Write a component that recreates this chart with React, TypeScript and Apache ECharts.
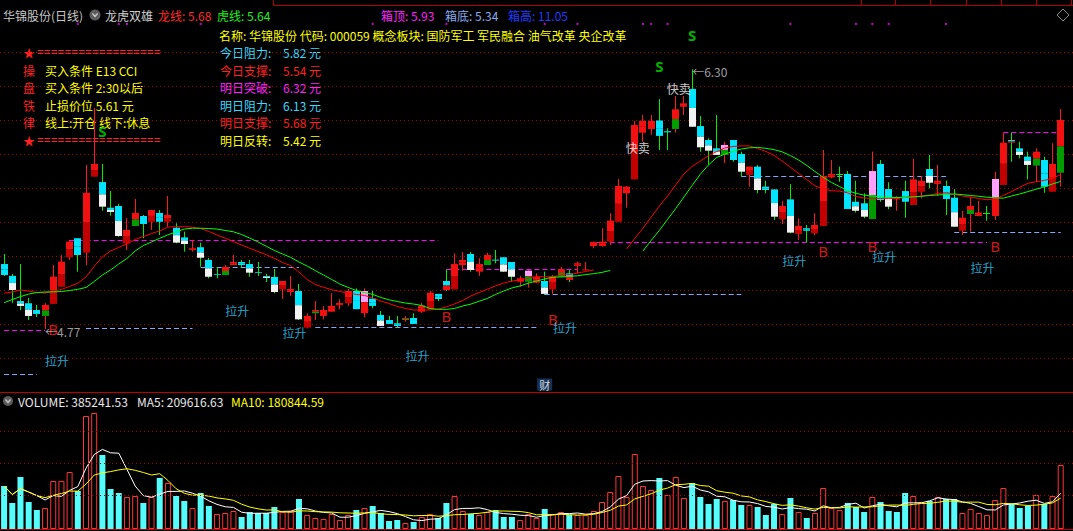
import React, { useEffect, useRef } from "react";
import * as echarts from "echarts";

// ---------- data ----------
const days: string[] = Array.from({ length: 131 }, (_, i) => `D${i + 1}`);

const opens = [5.153,5.083,4.935,4.922,4.882,4.847,4.918,5.019,5.193,5.305, 5.220,5.668,5.636,5.485,5.495,5.275,5.377,5.436,5.402,5.454, 5.402,5.367,5.310,5.236,5.252,5.177,5.091,5.088,5.147,5.165, 5.153,5.106,5.083,5.077,5.004,4.988,4.994,4.778,4.863,4.847, 4.872,4.910,4.922,4.994,4.863,4.949,4.853,4.823,4.804,4.823, 4.835,4.872,4.886,4.977,5.053,5.004,5.147,5.212,5.108,5.147, 5.179,5.193,5.165,5.049,5.049,5.043,5.053,5.004,5.078,5.098, 5.142,5.116,5.259,5.259,5.285,5.402,5.570,5.652,5.927,5.949, 5.999,5.929,5.949,6.080,6.185,5.966,5.884,5.835,5.796,5.884, 5.802,5.678,5.727,5.609,5.593,5.417,5.534,5.330,5.364,5.334, 5.377,5.664,5.682,5.684,5.520,5.511,5.418,5.743,5.595,5.546, 5.583,5.501,5.579,5.713,5.625,5.613,5.544,5.349,5.448,5.436, 5.451,5.436,5.619,5.884,5.835,5.786,5.733,5.766,5.579,5.691];
const closes = [5.088,5.000,4.906,4.847,4.859,4.912,5.079,5.167,5.285,5.206, 5.573,5.743,5.491,5.460,5.318,5.354,5.454,5.389,5.471,5.402, 5.442,5.279,5.271,5.246,5.190,5.078,5.094,5.136,5.165,5.147, 5.102,5.103,5.071,4.988,5.053,5.006,4.827,4.847,4.882,4.882, 4.906,4.923,4.994,4.887,4.994,4.906,4.788,4.800,4.788,4.835, 4.800,4.908,4.984,4.947,5.000,5.153,5.177,5.118,5.153,5.206, 5.175,5.108,5.078,5.069,5.114,5.078,4.977,5.083,5.122,5.059, 5.158,5.122,5.283,5.285,5.409,5.613,5.609,5.972,5.996,5.996, 5.908,5.937,6.065,6.100,5.962,5.841,5.821,5.796,5.855,5.766, 5.697,5.727,5.589,5.589,5.432,5.495,5.338,5.377,5.349,5.383, 5.672,5.684,5.686,5.477,5.467,5.432,5.701,5.530,5.491,5.535, 5.520,5.652,5.643,5.632,5.644,5.536,5.373,5.426,5.495,5.456, 5.453,5.654,5.868,5.868,5.796,5.737,5.815,5.609,5.743,6.002];
const lows = [5.083,4.924,4.882,4.823,4.841,4.770,4.918,5.018,5.177,5.108, 5.147,5.668,5.467,5.438,5.314,5.236,5.377,5.305,5.354,5.324, 5.373,5.275,5.226,5.226,5.137,5.069,5.069,5.088,5.147,5.134, 5.078,5.083,5.047,4.981,4.947,4.965,4.823,4.774,4.823,4.827, 4.872,4.886,4.906,4.887,4.839,4.892,4.788,4.800,4.780,4.813, 4.800,4.865,4.886,4.935,4.994,5.004,5.114,5.108,5.083,5.147, 5.157,5.106,5.049,5.019,5.014,5.040,4.971,4.977,5.075,5.047, 5.098,5.116,5.246,5.255,5.265,5.402,5.485,5.652,5.874,5.914, 5.825,5.825,5.927,6.031,5.962,5.815,5.737,5.796,5.747,5.756, 5.668,5.609,5.570,5.570,5.413,5.389,5.334,5.295,5.279,5.324, 5.377,5.658,5.638,5.477,5.456,5.423,5.418,5.520,5.476,5.467, 5.426,5.501,5.540,5.599,5.554,5.442,5.373,5.324,5.344,5.436, 5.408,5.413,5.619,5.756,5.776,5.652,5.638,5.573,5.579,5.609];
const highs = [5.212,5.094,5.153,4.953,4.912,4.922,5.147,5.205,5.295,5.305, 5.737,6.073,5.743,5.583,5.507,5.423,5.536,5.442,5.471,5.471, 5.554,5.393,5.344,5.295,5.279,5.189,5.134,5.147,5.206,5.177, 5.177,5.165,5.094,5.124,5.053,5.083,5.035,4.863,4.935,4.906, 4.981,4.945,5.006,5.009,5.010,4.994,4.876,4.847,4.847,4.847, 4.863,4.923,4.996,4.977,5.122,5.216,5.224,5.224,5.187,5.220, 5.236,5.193,5.165,5.083,5.118,5.098,5.108,5.088,5.137,5.118, 5.167,5.165,5.285,5.364,5.452,5.654,5.613,5.996,6.031,6.031, 6.125,5.953,6.143,6.143,6.300,6.025,5.894,6.031,5.874,5.884, 5.815,5.727,5.737,5.644,5.593,5.526,5.624,5.422,5.383,5.452, 5.825,5.766,5.727,5.701,5.644,5.570,5.815,5.766,5.635,5.554, 5.644,5.772,5.672,5.796,5.737,5.644,5.595,5.467,5.550,5.526, 5.495,5.697,5.927,5.927,5.874,5.815,5.835,5.786,5.865,6.067];
// body colour pattern: upper part / lower part
const bodyStyles = ['c','cw','cw','cw','c','rg','rd','rd','rd','c', 'rd','rd','cw','cw','cw','rd','rg','c','rd','c', 'rd','cw','cw','r','cw','cw','c','rg','r','c', 'cw','c','cw','cw','rd','r','cw','rd','rg','r', 'r','r','rd','c','pr','c','cw','c','c','rg', 'c','r','rd','c','cr','rd','r','cw','r','rg', 'c','cw','cw','r','pg','r','cw','rd','rg','cr', 'r','r','r','r','rd','rd','r','rd','r','r', 'c','c','rg','r','cw','cw','cw','cw','pg','c', 'cw','rd','cw','c','cw','rd','cw','rd','c','rd', 'rd','r','x','c','cw','cw','pg','c','cw','r', 'c','rd','rd','cw','r','c','cw','rd','rg','r', 'x','pr','rd','cr','cw','cw','rg','c','rd','rg'];

// 龙线 (red) and 虎线 (green)
const dragonLine = [4.981,4.988,5.000,4.994,4.985,4.982,4.994,5.003,5.021,5.040, 5.077,5.139,5.195,5.230,5.251,5.271,5.298,5.315,5.333,5.348, 5.371,5.373,5.373,5.370,5.362,5.345,5.324,5.305,5.285,5.265, 5.245,5.227,5.208,5.186,5.162,5.143,5.106,5.062,5.032,5.016, 5.002,4.991,4.982,4.974,4.968,4.953,4.935,4.920,4.903,4.891, 4.882,4.882,4.882,4.888,4.900,4.918,4.938,4.965,4.985,5.004, 5.024,5.041,5.053,5.059,5.071,5.078,5.078,5.078,5.087,5.091, 5.100,5.109,5.118,null,null,null,5.242,5.304,5.364,5.430, 5.495,5.554,5.619,5.684,5.728,5.760,5.791,5.816,5.837,5.846, 5.849,5.849,5.834,5.817,5.793,5.760,5.723,5.687,5.651,5.614, 5.595,5.585,5.583,5.572,5.551,5.542,5.540,5.540,5.540,5.540, 5.545,5.548,5.554,5.560,5.569,5.572,5.563,5.554,5.548,5.539, 5.532,5.536,5.557,5.580,5.605,5.629,5.638,5.646,5.658,5.680];
const tigerLine = [4.925,4.944,4.961,4.976,4.985,4.988,4.989,4.991,4.997,5.004, 5.015,5.050,5.088,5.118,5.153,5.186,5.230,5.262,5.283,5.305, 5.325,5.342,5.359,5.364,5.364,5.362,5.359,5.351,5.343,5.327, 5.306,5.283,5.258,5.233,5.212,5.192,5.165,5.141,5.114,5.088, 5.062,5.035,5.015,4.997,4.985,4.974,4.956,4.942,4.932,4.923, 4.917,4.909,4.891,4.886,4.886,4.891,4.906,4.917,4.934,4.950, 4.974,4.994,5.012,5.024,5.040,5.053,5.065,5.075,5.077,5.080, 5.084,5.091,5.096,5.104,5.115,null,null,null,5.230,5.292, 5.351,5.416,5.480,5.548,5.616,5.682,5.737,5.781,5.801,5.817, 5.831,5.838,5.840,5.835,5.827,5.814,5.792,5.766,5.734,5.698, 5.664,5.634,5.609,5.585,5.570,5.559,5.554,5.549,5.546,5.545, 5.546,5.549,5.552,5.557,5.560,5.563,5.566,5.562,5.557,5.552, 5.547,5.543,5.541,5.554,5.566,5.580,5.594,5.608,5.625,5.640];

const volumes = [258800,156500,313000,162500,114400,126400,288900,289500,343100,228700, 680100,698200,445400,240800,216700,192600,198600,156500,192600,307000, 276900,198600,168500,126400,216700,138400,90300,96300,108300,72200, 102300,96300,96300,132400,102300,108300,180600,84300,66200,60200, 90300,54200,84300,114400,126400,138400,96300,48200,54200,36100, 42100,72200,90300,66200,156500,198600,108300,90300,84300,102300, 114400,72200,72200,54200,90300,66200,120400,90300,102300,84300, 84300,84300,108300,162500,222700,319000,192600,451400,258800,234700, 307000,204600,313000,186600,276900,192600,150500,180600,168500,174600, 144500,144500,132400,84300,150500,90300,186600,102300,66200,96300, 246800,126400,114400,156500,132400,102300,192600,162500,108300,102300, 216700,198600,162500,168500,192600,180600,180600,96300,120400,96300, 84300,174600,246800,150500,126400,138400,204600,150500,198600,385242];

// signals: [bar index, price]
const buyIdx = [6, 54, 67, 100, 106, 121];
const buyPrice = [4.770, 4.847, 4.829, 5.230, 5.259, 5.259];
const liftIdx = [5, 27, 34, 49, 67, 95, 106, 118];
const liftPrice = [4.582, 4.882, 4.747, 4.611, 4.776, 5.171, 5.200, 5.130];
const sellIdx = [12, 80, 84];
const sellPrice = [5.937, 6.320, 6.503];
const fastSellIdx = [77, 82];
const fastSellPrice = [5.837, 6.190];
const topDotIdx = [9, 14, 15, 24, 45, 54, 66, 70, 78, 79, 81, 96, 104, 106, 108, 115];
const topDotPrice = 6.568;
const financeIdx = 66;
const financePrice = 4.443;
const extremeIdx = [84, 5];
const extremePrice = [6.30, 4.77];

// box lines: [from, to, price, kind]  (kind 0 = magenta, 1 = light blue)
const boxFrom = [0, 0, 8, 10, 24, 38, 54, 66, 72, 90, 116, 122];
const boxTo = [5, 4, 53, 23, 36, 65, 70, 90, 120, 115, 129, 129];
const boxPrice = [4.764, 4.505, 5.295, 4.774, 5.134, 4.780, 5.122, 4.976, 5.281, 5.672, 5.34, 5.93];
const boxKind = [0, 1, 0, 1, 1, 1, 0, 1, 0, 1, 1, 0];

const priceGridLevels = [4.6, 4.8, 5.0, 5.2, 5.4, 5.6, 5.8, 6.0, 6.2, 6.4];
const volGridLevels = [204600, 395400, 585600];

// ---------- styling ----------
const CYAN = "#00e4ff";
const WHITE = "#f2f2f2";
const RED = "#f21010";
const DRED = "#c20000";
const GREEN = "#009c00";
const PINK = "#ffa0ff";
const LIME = "#00ee00";
const STYLE_KEYS = ["c", "cw", "cr", "r", "rd", "rg", "pg", "pr", "x"];
const BODY: Record<string, [string, string]> = {
  c: [CYAN, CYAN], cw: [CYAN, WHITE], cr: [CYAN, RED], r: [RED, RED], rd: [RED, DRED],
  rg: [RED, GREEN], pg: [PINK, GREEN], pr: [PINK, RED], x: [LIME, LIME],
};
const WICK: Record<string, string> = {
  c: LIME, cw: LIME, cr: LIME, x: LIME, r: "#ff1a1a", rd: "#ff1a1a", rg: "#ff1a1a", pg: "#ff1a1a", pr: "#ff1a1a",
};
const CJK = '"Noto Sans CJK SC", "Noto Sans", sans-serif';

function ma(arr: number[], n: number) {
  return arr.map((_, i) => {
    const s = Math.max(0, i - n + 1);
    let sum = 0;
    for (let k = s; k <= i; k++) sum += arr[k];
    return Math.round(sum / (i - s + 1));
  });
}

function T(x: number, y: number, text: string, fill: string, font = `12px ${CJK}`) {
  return { type: "text", x, y, silent: true, style: { text, fill, font, verticalAlign: "middle", align: "left" } };
}

export default function App() {
  const ref = useRef<HTMLDivElement>(null);
  useEffect(() => {
    document.body.style.margin = "0";
    document.body.style.background = "#000";
    const chart = echarts.init(ref.current!, undefined, { renderer: "svg" });

    const candleData = opens.map((o, i) => [i, o, closes[i], lows[i], highs[i], STYLE_KEYS.indexOf(bodyStyles[i])]);
    const volData = volumes.map((v, i) => {
      const up = closes[i] >= opens[i];
      return {
        value: v,
        itemStyle: up
          ? { color: "rgba(0,0,0,0)", borderColor: "#ff3434", borderWidth: 1 }
          : { color: "#54fcfc", borderWidth: 0 },
      };
    });
    const ma5 = ma(volumes, 5);
    const ma10 = ma(volumes, 10);

    const boxMarks = boxFrom.map((f, k) => [
      { coord: [f, boxPrice[k]], lineStyle: { color: boxKind[k] === 0 ? "#ff00ff" : "#80a8ff", type: [5, 3], width: 1 } },
      { coord: [boxTo[k], boxPrice[k]] },
    ]);

    const labelScatter = (name: string, idx: number[], price: number[] | number, label: any, extra: any = {}) => ({
      name, type: "scatter", xAxisIndex: 0, yAxisIndex: 0, symbolSize: 0, silent: true, z: 10,
      data: idx.map((b, k) => [b, Array.isArray(price) ? price[k] : price]),
      label: { show: true, ...label }, ...extra,
    });

    const leftRows = [
      ["★", "", 52.3], ["操", "买入条件 E13 CCI", 70], ["盘", "买入条件 2:30以后", 87.3],
      ["铁", "止损价位 5.61 元", 105], ["律", "线上:开仓 线下:休息", 122.7], ["★", "", 140],
    ];
    const rightRows: [string, string, string, number][] = [
      ["今日阻力:", "5.82 元", "#3ad8ff", 52.3], ["今日支撑:", "5.54 元", "#ff2020", 70],
      ["明日突破:", "6.32 元", "#ff22ff", 87.3], ["明日阻力:", "6.13 元", "#3ad8ff", 105],
      ["明日支撑:", "5.68 元", "#ff2020", 122.7], ["明日反转:", "5.42 元", "#ffff00", 140],
    ];
    const graphics: any[] = [
      { type: "line", silent: true, shape: { x1: 273, y1: 5.5, x2: 1073, y2: 5.5 }, style: { stroke: "#b00000", lineWidth: 1 } },
      ...[273, 861, 895, 930, 966, 1001, 1036, 1071].map((x) => ({ type: "line", silent: true, shape: { x1: x + 0.5, y1: 0, x2: x + 0.5, y2: 5 }, style: { stroke: "#b00000", lineWidth: 1 } })),
      T(3, 15, "华锦股份(日线)", "#c8c8c8"),
      { type: "circle", silent: true, shape: { cx: 95, cy: 15, r: 5.5 }, style: { fill: "#5c5c5c" } },
      { type: "polyline", silent: true, shape: { points: [[92.5, 13.5], [95, 16.5], [97.5, 13.5]] }, style: { stroke: "#d0d0d0", lineWidth: 1.2, fill: "none" } },
      T(105, 15, "龙虎双雄", "#d0d0d0"),
      T(158, 15, "龙线: 5.68", "#ff2a2a"),
      T(217, 15, "虎线: 5.64", "#22ee22"),
      T(381, 15, "箱顶: 5.93", "#ff22ff"),
      T(445, 15, "箱底: 5.34", "#88aaee"),
      T(508, 15, "箱高: 11.05", "#1f3cff"),
      { type: "polygon", silent: true, shape: { points: [[1063, 9], [1069, 15], [1063, 21], [1057, 15]] }, style: { stroke: "#888", fill: "none", lineWidth: 1 } },
      T(219, 35, "名称: 华锦股份 代码: 000059 概念板块: 国防军工 军民融合 油气改革 央企改革", "#ffff00"),
      ...leftRows.flatMap(([a, b, y]) =>
        a === "★"
          ? [T(23, y as number, "★", "#ff2020"), T(37, y as number, "==================", "#ff2020", '12px "Noto Sans", sans-serif')]
          : [T(23, y as number, a as string, "#ff2020"), T(45, y as number, b as string, "#ffff00")]
      ),
      ...rightRows.flatMap(([a, b, c, y]) => [T(220, y, a, c), T(283, y, b, c)]),
      { type: "circle", silent: true, shape: { cx: 8, cy: 401, r: 5 }, style: { fill: "#5c5c5c" } },
      { type: "polyline", silent: true, shape: { points: [[5.5, 399.5], [8, 402.5], [10.5, 399.5]] }, style: { stroke: "#d0d0d0", lineWidth: 1.2, fill: "none" } },
      T(18, 401, "VOLUME: 385241.53", "#e8e8e8"),
      T(137, 401, "MA5: 209616.63", "#e8e8e8"),
      T(231, 401, "MA10: 180844.59", "#ffff00"),
    ];

    const option: any = {
      animation: false,
      backgroundColor: "#000",
      grid: [
        { left: 0, width: 1074, top: 18.5, height: 373.3 },
        { left: 0, width: 1074, top: 397, height: 132 },
      ],
      xAxis: [
        { type: "category", gridIndex: 0, data: days, boundaryGap: true, axisLine: { show: true, lineStyle: { color: "#c00000", width: 1 } }, axisTick: { show: false }, axisLabel: { show: false }, splitLine: { show: false } },
        { type: "category", gridIndex: 1, data: days, boundaryGap: true, axisLine: { show: true, lineStyle: { color: "#c00000", width: 1 } }, axisTick: { show: false }, axisLabel: { show: false }, splitLine: { show: false } },
      ],
      yAxis: [
        { type: "value", gridIndex: 0, min: 4.4, max: 6.6, show: false, splitLine: { show: false } },
        { type: "value", gridIndex: 1, min: 0, max: 794500, show: false, splitLine: { show: false } },
      ],
      series: [
        {
          name: "K", type: "custom", xAxisIndex: 0, yAxisIndex: 0, z: 3,
          data: candleData,
          encode: { x: 0, y: [1, 2, 3, 4] },
          renderItem: (params: any, api: any) => {
            const idx = api.value(0);
            const o = api.value(1), c = api.value(2), lo = api.value(3), hi = api.value(4);
            const key = STYLE_KEYS[api.value(5)] || "c";
            const pO = api.coord([idx, o]);
            const yC = api.coord([idx, c])[1];
            const yL = api.coord([idx, lo])[1];
            const yH = api.coord([idx, hi])[1];
            const band = api.size([1, 0])[0];
            const w = Math.max(3, Math.round(band * 0.8));
            const x0 = Math.round(pO[0] - w / 2);
            const xm = x0 + Math.floor(w / 2) + 0.5;
            const top = Math.min(pO[1], yC);
            const h = Math.max(1, Math.abs(pO[1] - yC));
            const [c1, c2] = BODY[key];
            const children: any[] = [
              { type: "line", shape: { x1: xm, y1: yH, x2: xm, y2: yL }, style: { stroke: WICK[key], lineWidth: 1 } },
            ];
            if (key === "x") {
              children.push({ type: "rect", shape: { x: x0, y: Math.round(top), width: w, height: 1 }, style: { fill: c1 } });
            } else {
              const h1 = h / 2;
              children.push({ type: "rect", shape: { x: x0, y: top, width: w, height: h1 }, style: { fill: c1 } });
              children.push({ type: "rect", shape: { x: x0, y: top + h1, width: w, height: h - h1 }, style: { fill: c2 } });
            }
            return { type: "group", children };
          },
        },
        {
          name: "龙线", type: "line", xAxisIndex: 0, yAxisIndex: 0, data: dragonLine, showSymbol: false, z: 4,
          lineStyle: { color: "#ff0000", width: 1 }, connectNulls: false,
          markLine: {
            silent: true, symbol: ["none", "none"], label: { show: false }, z: 1,
            lineStyle: { color: "#a80000", type: [1, 3], width: 1 },
            data: priceGridLevels.map((v) => ({ yAxis: v })),
          },
        },
        {
          name: "虎线", type: "line", xAxisIndex: 0, yAxisIndex: 0, data: tigerLine, showSymbol: false, z: 4,
          lineStyle: { color: "#00ff00", width: 1 }, connectNulls: false,
          markLine: { silent: true, symbol: ["none", "none"], label: { show: false }, z: 2, data: boxMarks },
        },
        labelScatter("B", buyIdx, buyPrice, { position: "inside", formatter: "B", color: "#ff2020", fontSize: 15, fontFamily: '"Noto Sans", sans-serif' }),
        labelScatter("拉升", liftIdx, liftPrice, { position: "right", distance: 0, formatter: "拉升", color: "#30d0ff", fontSize: 12, fontFamily: CJK }),
        labelScatter("S", sellIdx, sellPrice, { position: "inside", formatter: "S", color: "#00e000", fontSize: 15, fontWeight: "bold", fontFamily: '"Noto Sans", sans-serif' }),
        labelScatter("快卖", fastSellIdx, fastSellPrice, { position: "inside", offset: [3, 0], formatter: "快卖", color: "#ffffff", fontSize: 12, fontFamily: CJK }),
        labelScatter("极值", extremeIdx, extremePrice, {
          position: "right", distance: 0, color: "#c8c8c8", fontSize: 12, fontFamily: CJK,
          formatter: (p: any) => "←" + p.value[1].toFixed(2),
          offset: [0, 2],
        }),
        labelScatter("财", [financeIdx], [financePrice], { position: "inside", formatter: "财", color: "#ffffff", fontSize: 11, fontFamily: CJK, backgroundColor: "#1b3d6e", padding: [1, 2, 0, 2] }),
        {
          name: "dots", type: "scatter", xAxisIndex: 0, yAxisIndex: 0, symbol: "rect", symbolSize: [2, 2], silent: true,
          itemStyle: { color: "#ff00ff" }, data: topDotIdx.map((b) => [b, topDotPrice]),
        },
        {
          name: "VOLUME", type: "bar", xAxisIndex: 1, yAxisIndex: 1, barWidth: 6, data: volData, z: 3,
          markLine: {
            silent: true, symbol: ["none", "none"], label: { show: false },
            lineStyle: { color: "#a80000", type: [1, 3], width: 1 },
            data: volGridLevels.map((v) => ({ yAxis: v })),
          },
        },
        { name: "MA5", type: "line", xAxisIndex: 1, yAxisIndex: 1, data: ma5, showSymbol: false, z: 4, lineStyle: { color: "#ffffff", width: 1 } },
        { name: "MA10", type: "line", xAxisIndex: 1, yAxisIndex: 1, data: ma10, showSymbol: false, z: 4, lineStyle: { color: "#ffff00", width: 1 } },
      ],
      graphic: graphics,
    };
    chart.setOption(option);
    return () => chart.dispose();
  }, []);

  return <div ref={ref} style={{ position: "fixed", left: 0, top: 0, width: 1073, height: 531, background: "#000" }} />;
}
